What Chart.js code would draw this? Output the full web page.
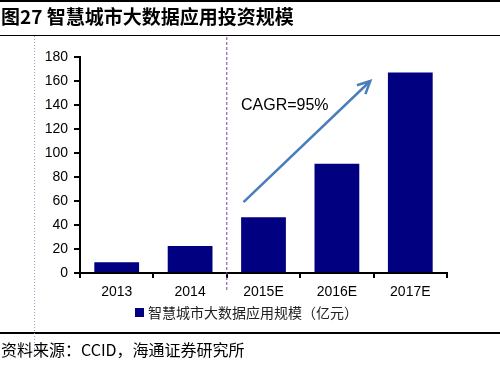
<!DOCTYPE html>
<html>
<head>
<meta charset="utf-8">
<script src="https://cdn.jsdelivr.net/npm/chart.js@4"></script>
<style>
  html, body { margin: 0; padding: 0; background: #fff; }
  #wrap { width: 500px; height: 373px; position: relative; }
</style>
</head>
<body>
<div id="wrap"><canvas id="grafico" width="500" height="373"></canvas></div>
<script>
// dados do gráfico
const anos = ['2013', '2014', '2015E', '2016E', '2017E'];
const valores = [9, 22.5, 46.5, 91, 167];
const ticksY = [0, 20, 40, 60, 80, 100, 120, 140, 160, 180];
const titulo = '图27 智慧城市大数据应用投资规模';
const legenda = '智慧城市大数据应用规模（亿元）';
const fonte = '资料来源：CCID，海通证券研究所';
const cagr = 'CAGR=95%';

const fonteCJK = '"Noto Sans CJK SC", sans-serif';
const fonteLat = '"Liberation Sans", Arial, sans-serif';

// plugin para os elementos decorativos (título, linhas, seta, legenda)
const decoracao = {
    id: 'decoracao',
    beforeDraw(chart) {
        const c = chart.ctx;
        c.save();
        c.fillStyle = '#fff';
        c.fillRect(0, 0, chart.width, chart.height);
        c.restore();
    },
    afterDraw(chart) {
        const c = chart.ctx;
        const x = chart.scales.x;
        const y = chart.scales.y;
        c.save();

        // linhas do cabeçalho
        c.fillStyle = '#000';
        c.fillRect(0, 0, 500, 2);
        c.fillRect(0, 35, 500, 1);
        c.fillRect(0, 332, 500, 2);

        // título
        c.font = 'bold 19px ' + fonteCJK;
        c.textBaseline = 'middle';
        c.fillText(titulo, 1, 17);

        // linha pontilhada azul à esquerda
        c.strokeStyle = '#8fa8c8';
        c.lineWidth = 1;
        c.setLineDash([1, 2]);
        c.beginPath();
        c.moveTo(34.5, 36);
        c.lineTo(34.5, 356);
        c.stroke();

        // linha tracejada roxa entre 2014 e 2015E
        const xDiv = (x.getPixelForValue(1) + x.getPixelForValue(2)) / 2;
        c.strokeStyle = '#7a3fa0';
        c.setLineDash([3, 2]);
        c.beginPath();
        c.moveTo(xDiv, 37);
        c.lineTo(xDiv, 290);
        c.stroke();
        c.setLineDash([]);

        // seta CAGR
        const x0 = x.getPixelForValue(2) - 20, y0 = y.getPixelForValue(59);
        const x1 = x.getPixelForValue(4) - 40, y1 = y.getPixelForValue(160);
        c.strokeStyle = '#4a7ebb';
        c.lineWidth = 2.5;
        c.beginPath();
        c.moveTo(x0, y0);
        c.lineTo(x1, y1);
        c.stroke();
        const ang = Math.atan2(y1 - y0, x1 - x0);
        c.beginPath();
        c.moveTo(x1 - 14 * Math.cos(ang - 0.45), y1 - 14 * Math.sin(ang - 0.45));
        c.lineTo(x1, y1);
        c.lineTo(x1 - 14 * Math.cos(ang + 0.45), y1 - 14 * Math.sin(ang + 0.45));
        c.stroke();

        c.fillStyle = '#000';
        c.font = '16px ' + fonteLat;
        c.textBaseline = 'middle';
        c.fillText(cagr, 241, 106);

        // legenda
        c.fillStyle = '#000080';
        c.fillRect(135, 308, 9, 9);
        c.fillStyle = '#222';
        c.font = '14px ' + fonteCJK;
        c.fillText(legenda, 148, 313);

        // fonte
        c.fillStyle = '#000';
        c.font = '16px ' + fonteCJK;
        c.fillText(fonte, 1, 350);
        c.restore();
    }
};

const ctx = document.getElementById('grafico').getContext('2d');
new Chart(ctx, {
    type: 'bar',
    data: {
        labels: anos,
        datasets: [{
            label: legenda,
            data: valores,
            backgroundColor: '#000080',
            borderWidth: 0,
            categoryPercentage: 1,
            barPercentage: 0.61
        }]
    },
    options: {
        responsive: false,
        animation: false,
        events: [],
        layout: {
            padding: { left: 0, top: 57, right: 53, bottom: 0 }
        },
        plugins: {
            legend: { display: false },
            tooltip: { enabled: false }
        },
        scales: {
            x: {
                offset: true,
                grid: {
                    offset: true,
                    drawOnChartArea: false,
                    color: '#000',
                    tickLength: 5,
                    lineWidth: 2
                },
                border: { color: '#000', width: 2 },
                ticks: {
                    color: '#000',
                    font: { family: fonteLat, size: 14 },
                    padding: 6,
                    maxRotation: 0
                },
                afterFit(scale) { scale.height = 100; }
            },
            y: {
                min: 0,
                max: 180,
                afterBuildTicks(scale) {
                    scale.ticks = ticksY.map(v => ({ value: v }));
                },
                grid: {
                    drawOnChartArea: false,
                    color: '#000',
                    tickLength: 6,
                    lineWidth: 2
                },
                border: { color: '#000', width: 2 },
                ticks: {
                    color: '#000',
                    font: { family: fonteLat, size: 14 },
                    padding: 6
                },
                afterFit(scale) { scale.width = 80; }
            }
        }
    },
    plugins: [decoracao]
});
</script>
</body>
</html>
